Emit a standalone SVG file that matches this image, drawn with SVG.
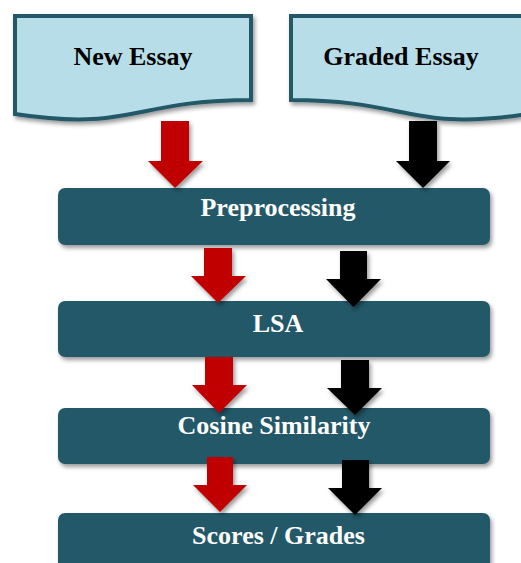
<svg xmlns="http://www.w3.org/2000/svg" width="521" height="563" viewBox="0 0 521 563">
  <defs>
    <filter id="shadow" x="-10%" y="-10%" width="130%" height="140%">
      <feDropShadow dx="2" dy="3" stdDeviation="2" flood-color="#000" flood-opacity="0.4"/>
    </filter>
  </defs>
  <style>
    .doc { fill: #B7DEE8; stroke: #215968; stroke-width: 4; filter: url(#shadow); }
    .step { fill: #215968; filter: url(#shadow); }
    .label { font-family: "Liberation Serif", "Times New Roman", serif; font-weight: bold; font-size: 26px; text-anchor: middle; }
    .dark { fill: #000; }
    .light { fill: #fff; }
    .red { fill: #C00000; filter: url(#shadow); }
    .black { fill: #000; filter: url(#shadow); }
  </style>
  <rect width="521" height="563" fill="#fff"/>

  <!-- input documents -->
  <g id="new-essay">
    <path class="doc" d="M15,16 H251 V100 C133,100 133,132 15,114 Z"/>
    <text class="label dark" x="133" y="65">New Essay</text>
  </g>
  <g id="graded-essay">
    <path class="doc" d="M291,16 H527 V114 C409,132 409,100 291,100 Z"/>
    <text class="label dark" x="401" y="65">Graded Essay</text>
  </g>

  <!-- processing steps -->
  <g id="preprocessing">
    <rect class="step" x="58" y="188" width="432" height="57" rx="7"/>
    <text class="label light" x="278" y="216">Preprocessing</text>
  </g>
  <g id="lsa">
    <rect class="step" x="58" y="301" width="432" height="56" rx="7"/>
    <text class="label light" x="278" y="332">LSA</text>
  </g>
  <g id="cosine-similarity">
    <rect class="step" x="58" y="408" width="432" height="56" rx="7"/>
    <text class="label light" x="274" y="434">Cosine Similarity</text>
  </g>
  <g id="scores-grades">
    <rect class="step" x="58" y="513" width="432" height="60" rx="7"/>
    <text class="label light" x="278.5" y="544">Scores / Grades</text>
  </g>

  <!-- block arrows: red = new essay, black = graded essay -->
  <g id="connectors">
    <polygon class="red" points="161,121 189,121 189,161 203,161 175,188 148,161 161,161"/>
    <polygon class="black" points="409,121 437,121 437,161 450,161 423,188 396,161 409,161"/>

    <polygon class="red" points="204,248 232,248 232,276 246,276 218,303 191,276 204,276"/>
    <polygon class="black" points="340,251 367,251 367,279 381,279 353.5,307 326,279 340,279"/>

    <polygon class="red" points="205,357 233,357 233,385 247,385 219,413 192,385 205,385"/>
    <polygon class="black" points="341,360 369,360 369,388 382,388 355,415 327,388 341,388"/>

    <polygon class="red" points="207,457 233,457 233,485 247,485 220,512 193,485 207,485"/>
    <polygon class="black" points="342,460 369,460 369,488 382,488 355,515 328,488 342,488"/>
  </g>
</svg>
